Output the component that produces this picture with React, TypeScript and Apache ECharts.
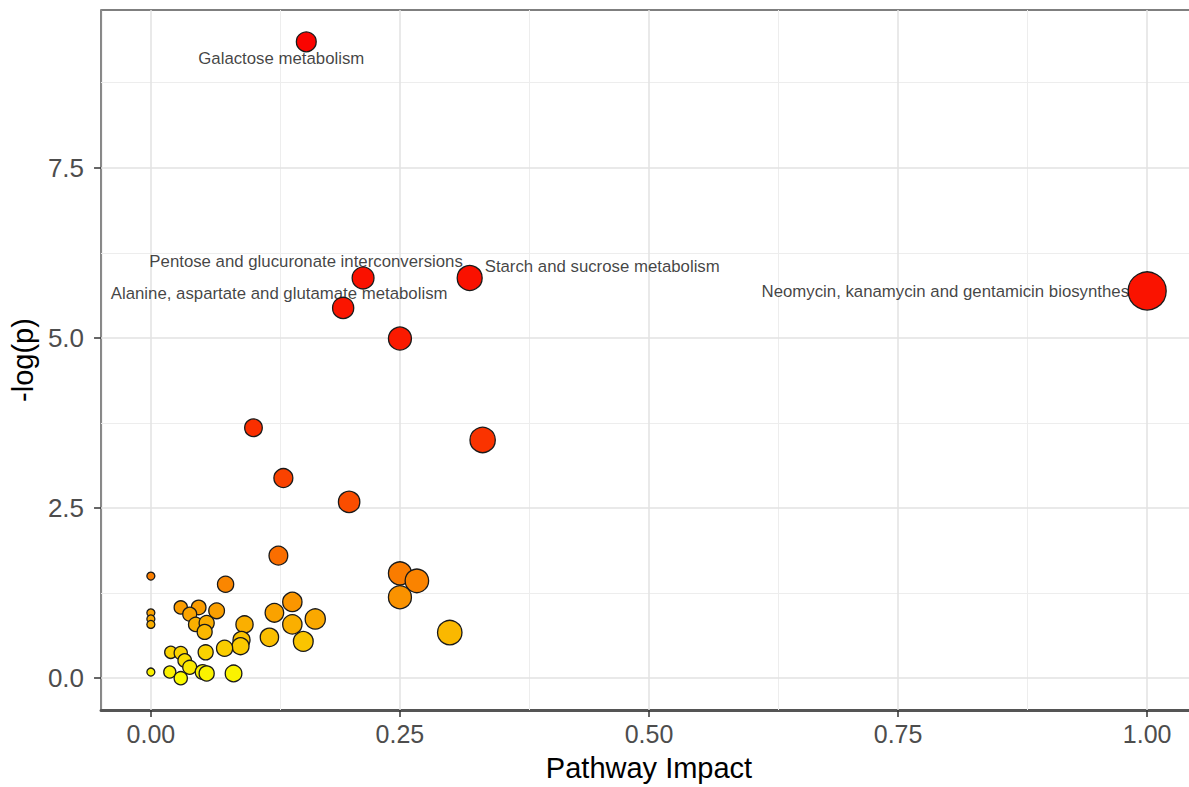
import { useEffect, useRef } from "react";
import * as echarts from "echarts";

// Pathway impact (x) and -log(p) (y) for every pathway
const impact = [
  0.156, 0.213, 0.320, 1.0, 0.193,
  0.25, 0.103, 0.333, 0.133, 0.199, 0.128, 0.25, 0.267, 0.25, 0.30,
  0.0, 0.075, 0.142, 0.030, 0.048, 0.066, 0.039, 0.124, 0.0, 0.0,
  0.165, 0.045, 0.056, 0.054, 0.0, 0.142, 0.094, 0.119, 0.091, 0.153,
  0.090, 0.074, 0.055, 0.020, 0.030, 0.034, 0.039, 0.019, 0.052, 0.056,
  0.0, 0.083, 0.030,
];
const negLogP = [
  9.35, 5.88, 5.88, 5.69, 5.44,
  4.99, 3.68, 3.50, 2.94, 2.59, 1.80, 1.54, 1.43, 1.19, 0.67,
  1.50, 1.38, 1.12, 1.04, 1.04, 0.99, 0.94, 0.96, 0.96, 0.87,
  0.87, 0.79, 0.81, 0.68, 0.79, 0.79, 0.79, 0.60, 0.56, 0.54,
  0.47, 0.44, 0.38, 0.38, 0.37, 0.26, 0.16, 0.09, 0.09, 0.07,
  0.09, 0.07, 0.0,
];
// Names of the labelled pathways (the first five points)
const pathwayNames = [
  "Galactose metabolism",
  "Pentose and glucuronate interconversions",
  "Starch and sucrose metabolism",
  "Neomycin, kanamycin and gentamicin biosynthesis",
  "Alanine, aspartate and glutamate metabolism",
];
const xTicks = [0, 0.25, 0.5, 0.75, 1.0];
const yTicks = [0, 2.5, 5.0, 7.5];
const xMinorTicks = [0.125, 0.375, 0.625, 0.875];
const yMinorTicks = [1.25, 3.75, 6.25, 8.75];
const xTitle = "Pathway Impact";
const yTitle = "-log(p)";

// label placement (style only)
const labelPlacement: Record<string, { align: string; offset: number[] }> = {
  "Galactose metabolism": { align: "center", offset: [-25, 17] },
  "Pentose and glucuronate interconversions": { align: "center", offset: [-57, -16] },
  "Starch and sucrose metabolism": { align: "left", offset: [15, -11] },
  "Neomycin, kanamycin and gentamicin biosynthesis": { align: "right", offset: [-6, 1] },
  "Alanine, aspartate and glutamate metabolism": { align: "center", offset: [-64, -14] },
};

const FONT = "'Liberation Sans', Arial, Helvetica, sans-serif";

function heatColor(y: number): string {
  const g = Math.round(250 * Math.exp(-y / 2.2));
  return `rgb(250,${g},0)`;
}

export default function App() {
  const ref = useRef<HTMLDivElement>(null);

  useEffect(() => {
    if (!ref.current) return;
    const chart = echarts.init(ref.current, undefined, { renderer: "svg" });

    const xLo = Math.min(...impact);
    const xHi = Math.max(...impact);
    const yLo = Math.min(...negLogP);
    const yHi = Math.max(...negLogP);
    const xPad = (xHi - xLo) * 0.05;
    const yPad = (yHi - yLo) * 0.05;

    const points = impact.map((x, i) => [x, negLogP[i]]);
    const labelled = pathwayNames.map((name, i) => {
      const pl = labelPlacement[name];
      return {
        name,
        value: [impact[i], negLogP[i]],
        label: {
          show: true,
          position: "inside",
          align: pl.align,
          verticalAlign: "middle",
          offset: pl.offset,
        },
      };
    });

    const gridLineData = [
      ...xMinorTicks.map((v) => ({ xAxis: v, lineStyle: { color: "#ededed", width: 1, type: "solid" } })),
      ...yMinorTicks.map((v) => ({ yAxis: v, lineStyle: { color: "#ededed", width: 1, type: "solid" } })),
      ...xTicks.map((v) => ({ xAxis: v, lineStyle: { color: "#e2e2e2", width: 1.5, type: "solid" } })),
      ...yTicks.map((v) => ({ yAxis: v, lineStyle: { color: "#e2e2e2", width: 1.5, type: "solid" } })),
    ];

    chart.setOption({
      animation: false,
      backgroundColor: "#ffffff",
      textStyle: { fontFamily: FONT },
      grid: {
        left: 99,
        right: 0,
        top: 10,
        bottom: 77,
        show: true,
        borderColor: "#555555",
        borderWidth: 1.5,
        backgroundColor: "transparent",
      },
      xAxis: {
        type: "value",
        min: xLo - xPad,
        max: xHi + xPad,
        axisLine: { show: true, onZero: false, lineStyle: { color: "#555555", width: 3 } },
        axisTick: { show: true, length: 7, customValues: xTicks, lineStyle: { color: "#333333", width: 1.5 } },
        axisLabel: {
          customValues: xTicks,
          formatter: (v: number) => v.toFixed(2),
          fontSize: 25,
          color: "#4d4d4d",
          margin: 11,
          fontFamily: FONT,
        },
        splitLine: { show: false },
        minorSplitLine: { show: false },
        name: xTitle,
        nameLocation: "middle",
        nameGap: 43,
        nameTextStyle: { fontSize: 29, color: "#000000", fontFamily: FONT },
      },
      yAxis: {
        type: "value",
        min: yLo - yPad,
        max: yHi + yPad,
        axisLine: { show: true, onZero: false, lineStyle: { color: "#8a8a8a", width: 1.2 } },
        axisTick: { show: true, length: 7, customValues: yTicks, lineStyle: { color: "#333333", width: 1.5 } },
        axisLabel: {
          customValues: yTicks,
          formatter: (v: number) => v.toFixed(1),
          fontSize: 26,
          color: "#4d4d4d",
          margin: 17,
          fontFamily: FONT,
        },
        splitLine: { show: false },
        minorSplitLine: { show: false },
        name: yTitle,
        nameLocation: "middle",
        nameGap: 62,
        nameTextStyle: { fontSize: 29, color: "#000000", fontFamily: FONT },
      },
      series: [
        {
          type: "scatter",
          z: 2,
          data: labelled,
          symbolSize: 1,
          itemStyle: { color: "rgba(0,0,0,0)" },
          label: {
            show: true,
            formatter: "{b}",
            fontSize: 16.8,
            color: "#111111",
            fontFamily: FONT,
          },
          markLine: {
            z: 1,
            silent: true,
            symbol: ["none", "none"],
            label: { show: false },
            emphasis: { disabled: true },
            data: gridLineData,
          },
          silent: true,
        },
        {
          type: "scatter",
          z: 3,
          data: points,
          symbolSize: (val: number[]) => 2 * (4 + 15 * Math.sqrt(val[0])),
          itemStyle: {
            color: (p: any) => heatColor(p.value[1]),
            borderColor: "#1a1a1a",
            borderWidth: 1.3,
            opacity: 1,
          },
          emphasis: { disabled: true },
          silent: true,
        },
      ],
    });

    return () => chart.dispose();
  }, []);

  return (
    <div style={{ position: "fixed", left: 0, top: 0, width: 1189, height: 787, overflow: "hidden", background: "#fff" }}>
      <div ref={ref} style={{ width: 1197, height: 787 }} />
    </div>
  );
}
